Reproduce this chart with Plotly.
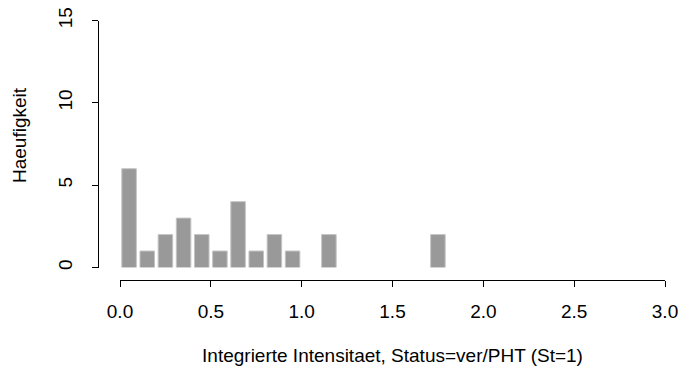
import plotly.graph_objects as go

# Histogram of integrated intensity, bin width 0.1
bin_starts = [0.0, 0.1, 0.2, 0.3, 0.4, 0.5, 0.6, 0.7, 0.8, 0.9,
              1.0, 1.1, 1.2, 1.3, 1.4, 1.5, 1.6, 1.7]
counts = [6, 1, 2, 3, 2, 1, 4, 1, 2, 1, 0, 2, 0, 0, 0, 0, 0, 2]
bin_width = 0.1

x_ticks = [0.0, 0.5, 1.0, 1.5, 2.0, 2.5, 3.0]
x_tick_text = ["0.0", "0.5", "1.0", "1.5", "2.0", "2.5", "3.0"]
y_ticks = [0, 5, 10, 15]

x_title = "Integrierte Intensitaet, Status=ver/PHT (St=1)"
y_title = "Haeufigkeit"

W, H = 679, 374
centers = [s + bin_width / 2 for s in bin_starts]

fig = go.Figure(
    go.Bar(
        x=centers,
        y=counts,
        marker=dict(
            color="#999999",
            line=dict(color="#c4c4c4", width=[1 if c > 0 else 0 for c in counts]),
        ),
        hoverinfo="x+y",
    )
)

family = "Liberation Sans"
tick_font = dict(family=family, size=19, color="#000000")
title_font = dict(family=family, size=19, color="#000000")

fig.update_layout(
    width=W,
    height=H,
    margin=dict(l=0, r=0, t=0, b=0, autoexpand=False),
    paper_bgcolor="white",
    plot_bgcolor="white",
    bargap=0.2,
    showlegend=False,
    font=tick_font,
    xaxis=dict(
        domain=[120 / W, 665 / W],
        range=[0, 3],
        anchor="free",
        position=(H - 280) / H,
        automargin=False,
        showgrid=False,
        zeroline=False,
        showline=True,
        linecolor="black",
        linewidth=1,
        ticks="outside",
        ticklen=6,
        tickcolor="black",
        tickvals=x_ticks,
        ticktext=x_tick_text,
        tickfont=tick_font,
        ticklabelstandoff=8,
        title=dict(text=x_title, standoff=27, font=title_font),
    ),
    yaxis=dict(
        domain=[(H - 267.5) / H, (H - 20.5) / H],
        range=[0, 15],
        anchor="free",
        position=98 / W,
        automargin=False,
        showgrid=False,
        zeroline=False,
        showline=True,
        linecolor="black",
        linewidth=1,
        ticks="outside",
        ticklen=6,
        tickcolor="black",
        tickvals=y_ticks,
        tickangle=-90,
        tickfont=tick_font,
        ticklabelstandoff=12,
    ),
    annotations=[
        dict(
            text=y_title,
            xref="paper",
            yref="paper",
            x=19 / W,
            y=(H - 135) / H,
            xanchor="center",
            yanchor="middle",
            textangle=-90,
            showarrow=False,
            font=title_font,
        )
    ],
)

fig.write_html("out.html")
